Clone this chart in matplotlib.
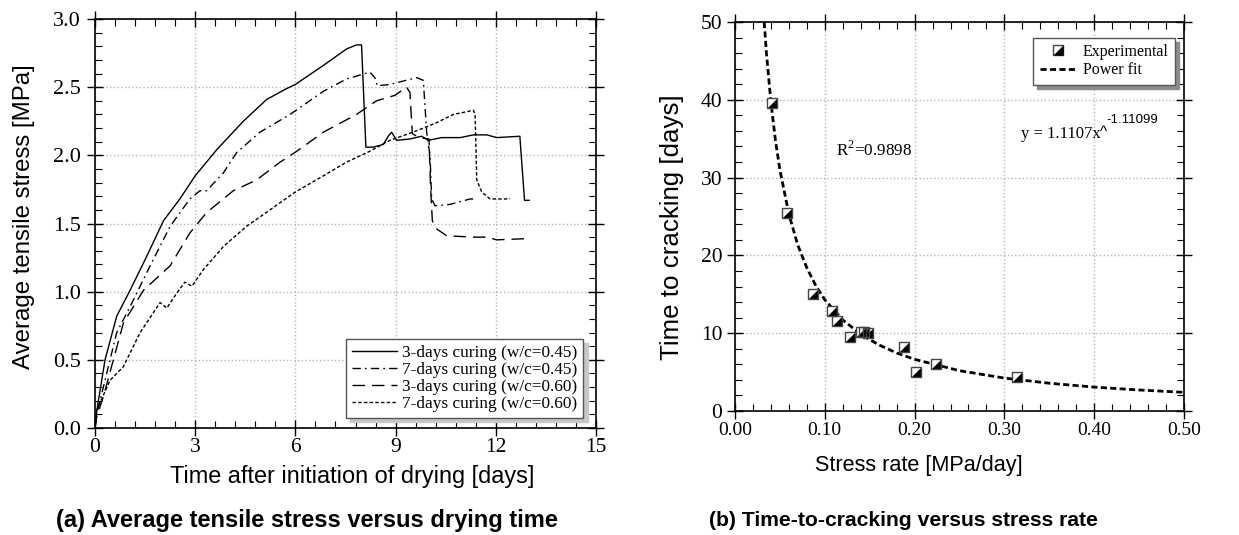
import matplotlib
matplotlib.use('Agg')
import matplotlib.pyplot as plt
from matplotlib.ticker import MultipleLocator, FormatStrFormatter
from matplotlib.legend_handler import HandlerTuple

plt.rcParams['mathtext.fontset'] = 'custom'
plt.rcParams['mathtext.rm'] = 'Liberation Serif'

SERIF = 'Liberation Serif'
SANS = 'Liberation Sans'

# ---- (a) stress vs drying time ----
t_c3_045 = [0, 0.05, 0.3, 0.65, 1.05, 1.55, 2.05, 2.54, 3.0, 3.64, 4.44, 5.14, 5.74, 6.0,
            6.84, 7.53, 7.83, 7.98, 8.11, 8.33, 8.63, 8.78, 8.88, 9.03, 9.43, 9.78, 9.98,
            10.38, 10.93, 11.33, 11.73, 12.03, 12.72, 12.86, 13.0]
s_c3_045 = [0, 0.12, 0.5, 0.82, 1.01, 1.26, 1.52, 1.68, 1.85, 2.04, 2.25, 2.41, 2.49, 2.52,
            2.66, 2.78, 2.81, 2.81, 2.06, 2.06, 2.08, 2.14, 2.17, 2.11, 2.12, 2.14, 2.11,
            2.13, 2.13, 2.15, 2.15, 2.13, 2.14, 1.67, 1.67]

t_c7_045 = [0, 0.05, 0.25, 0.65, 1.05, 1.55, 2.25, 2.84, 3.14, 3.34, 3.84, 4.24, 4.94, 5.84,
            6.84, 7.53, 8.23, 8.38, 8.45, 8.83, 9.63, 9.83, 9.93, 10.03, 10.08, 10.18, 10.63,
            11.23, 11.33]
s_c7_045 = [0, 0.1, 0.30, 0.70, 0.89, 1.14, 1.48, 1.68, 1.74, 1.74, 1.87, 2.02, 2.17, 2.30,
            2.47, 2.56, 2.61, 2.57, 2.51, 2.52, 2.57, 2.55, 2.17, 2.0, 1.68, 1.63, 1.64,
            1.68, 1.68]

t_c3_060 = [0, 0.05, 0.25, 0.85, 1.45, 2.25, 2.84, 3.34, 4.14, 4.84, 5.54, 6.04, 6.84, 7.83,
            8.43, 8.98, 9.33, 9.43, 9.5, 9.7, 10.0, 10.05, 10.1, 10.23, 10.53, 11.33, 11.73,
            12.03, 13.02]
s_c3_060 = [0, 0.08, 0.23, 0.77, 1.01, 1.19, 1.43, 1.58, 1.74, 1.82, 1.95, 2.03, 2.17, 2.30,
            2.40, 2.44, 2.50, 2.46, 2.16, 2.13, 2.12, 1.75, 1.52, 1.46, 1.41, 1.40, 1.40,
            1.38, 1.39]

t_c7_060 = [0, 0.05, 0.45, 0.85, 1.35, 1.95, 2.15, 2.45, 2.69, 2.90, 3.24, 3.84, 4.54, 5.24,
            5.99, 6.84, 7.53, 8.23, 8.83, 9.63, 10.23, 10.73, 11.33, 11.38, 11.43, 11.58,
            11.83, 12.43]
s_c7_060 = [0, 0.13, 0.35, 0.45, 0.70, 0.92, 0.88, 0.99, 1.07, 1.04, 1.16, 1.33, 1.48, 1.60,
            1.73, 1.85, 1.95, 2.03, 2.11, 2.18, 2.24, 2.30, 2.33, 2.30, 1.82, 1.73,
            1.68, 1.68]

labels_a = ['3-days curing (w/c=0.45)', '7-days curing (w/c=0.45)',
            '3-days curing (w/c=0.60)', '7-days curing (w/c=0.60)']

# ---- (b) time to cracking vs stress rate ----
rate = [0.0407, 0.0581, 0.087, 0.108, 0.114, 0.1285, 0.1407, 0.1437, 0.148, 0.188,
        0.202, 0.224, 0.314]
t_crack = [39.6, 25.5, 15.0, 12.9, 11.6, 9.55, 10.2, 10.2, 10.0, 8.27, 5.05, 6.04, 4.33]

fit_x = [0.0325, 0.035, 0.04, 0.045, 0.05, 0.06, 0.07, 0.08, 0.09, 0.10, 0.12, 0.14,
         0.16, 0.18, 0.20, 0.25, 0.30, 0.35, 0.40, 0.45, 0.50]
fit_y = [50.0, 46.0, 39.7, 34.8, 31.0, 25.3, 21.3, 18.4, 16.1, 14.3, 11.7, 9.87,
         8.51, 7.46, 6.64, 5.18, 4.23, 3.57, 3.07, 2.70, 2.40]

W, H = 1239, 535
fig = plt.figure(figsize=(W / 100, H / 100), dpi=100)


def px_axes(l, t, r, b):
    return fig.add_axes([l / W, 1 - b / H, (r - l) / W, (b - t) / H])


def style_axes(ax):
    for s in ax.spines.values():
        s.set_linewidth(1.2)
    ax.tick_params(which='both', top=True, right=True, labelfontfamily=SERIF)
    ax.tick_params(which='major', direction='inout', length=12, width=1.0)
    ax.tick_params(which='minor', direction='in', length=5, width=0.8)
    ax.grid(True, which='major', color='#b5b5b5', linestyle=':', linewidth=1.0)
    ax.set_axisbelow(True)


TRI = [(1, -1), (1, 1), (-1, -1)]   # lower-right half of the square marker

# ----- panel (a) -----
ax1 = px_axes(95, 19, 596, 428)
ax1.plot(t_c3_045, s_c3_045, color='k', lw=1.0, ls='-', label=labels_a[0])
ax1.plot(t_c7_045, s_c7_045, color='k', lw=1.0, ls=(0, (6, 3, 1.2, 3)), label=labels_a[1])
ax1.plot(t_c3_060, s_c3_060, color='k', lw=1.0, ls=(0, (9, 5)), label=labels_a[2])
ax1.plot(t_c7_060, s_c7_060, color='k', lw=1.0, ls=(0, (2.5, 1.6)), label=labels_a[3])
ax1.set_xlim(0, 15)
ax1.set_ylim(0, 3.0)
ax1.xaxis.set_major_locator(MultipleLocator(3))
ax1.xaxis.set_minor_locator(MultipleLocator(0.6))
ax1.yaxis.set_major_locator(MultipleLocator(0.5))
ax1.yaxis.set_minor_locator(MultipleLocator(0.1))
ax1.yaxis.set_major_formatter(FormatStrFormatter('%.1f'))
style_axes(ax1)
ax1.tick_params(axis='x', pad=1, labelsize=15.5)
ax1.tick_params(axis='y', pad=4, labelsize=16)
leg1 = ax1.legend(loc='lower right', bbox_to_anchor=(0.975, 0.025), borderaxespad=0,
                  prop={'family': SERIF, 'size': 12.4}, handlelength=2.6,
                  labelspacing=0.05, handletextpad=0.3, borderpad=0.35, fancybox=False,
                  edgecolor='#555555', framealpha=1,
                  shadow={'color': '#c8c8c8', 'alpha': 1, 'ox': 3, 'oy': -3})
leg1.get_frame().set_linewidth(1.0)

# ----- panel (b) -----
ax2 = px_axes(735, 22, 1184, 411)
ax2.plot(fit_x, fit_y, color='k', lw=2.0, ls=(0, (2.2, 1.2)), zorder=3)
ax2.plot(rate, t_crack, ls='none', marker='s', ms=7.5, mfc='white', mec='none', zorder=4)
ax2.plot(rate, t_crack, ls='none', marker=TRI, ms=7.5, mfc='black', mec='none', zorder=5)
ax2.plot(rate, t_crack, ls='none', marker='s', ms=7.5, mfc='none', mec='#444444',
         mew=1.0, zorder=6)
ax2.set_xlim(0, 0.5)
ax2.set_ylim(0, 50)
ax2.xaxis.set_major_locator(MultipleLocator(0.1))
ax2.xaxis.set_minor_locator(MultipleLocator(0.02))
ax2.yaxis.set_major_locator(MultipleLocator(10))
ax2.yaxis.set_minor_locator(MultipleLocator(2))
ax2.xaxis.set_major_formatter(FormatStrFormatter('%.2f'))
style_axes(ax2)
ax2.tick_params(axis='x', pad=2, labelsize=14)
ax2.tick_params(axis='y', pad=3, labelsize=15.5)

h_sq = plt.Line2D([], [], ls='none', marker='s', ms=7.5, mfc='white', mec='#444444', mew=1.0)
h_tri = plt.Line2D([], [], ls='none', marker=TRI, ms=7.5, mfc='black', mec='none')
h_fit = plt.Line2D([], [], color='k', lw=2.0, ls=(0, (2.2, 1.2)))
leg2 = ax2.legend([(h_sq, h_tri), h_fit], ['Experimental', 'Power fit'],
                  handler_map={tuple: HandlerTuple(ndivide=1, pad=0)}, numpoints=1,
                  loc='upper right', bbox_to_anchor=(0.98, 0.96), borderaxespad=0,
                  prop={'family': SERIF, 'size': 11.5}, handlelength=2.3,
                  labelspacing=0.15, handletextpad=0.4, fancybox=False,
                  edgecolor='#555555', framealpha=1,
                  shadow={'color': '#8c8c8c', 'alpha': 1, 'ox': 3, 'oy': -3})
leg2.get_frame().set_linewidth(1.0)

ax2.text(0.113, 32.8, r'R$^{\mathrm{2}}$=0.9898', family=SERIF, fontsize=12.3,
         va='baseline', ha='left')
ax2.text(0.319, 35.1, 'y = 1.1107x', family=SERIF, fontsize=12, va='baseline', ha='left')
ax2.text(0.406, 35.4, '^', family=SANS, fontsize=11, va='baseline', ha='left')
ax2.text(0.414, 37.0, '-1.11099', family=SANS, fontsize=9.5, va='baseline', ha='left')

# ----- axis labels and captions -----
fig.text(352 / W, 1 - 477 / H, 'Time after initiation of drying [days]', family=SANS,
         fontsize=16.9, ha='center', va='center')
fig.text(24 / W, 1 - 217 / H, 'Average tensile stress [MPa]', family=SANS,
         fontsize=17.3, ha='center', va='center', rotation=90)
fig.text(919 / W, 1 - 465 / H, 'Stress rate [MPa/day]', family=SANS,
         fontsize=15.6, ha='center', va='center')
fig.text(672 / W, 1 - 227 / H, 'Time to cracking [days]', family=SANS,
         fontsize=18.6, ha='center', va='center', rotation=90)
fig.text(307 / W, 1 - 521 / H, '(a) Average tensile stress versus drying time',
         family=SANS, fontsize=17, fontweight='bold', ha='center', va='center')
fig.text(903 / W, 1 - 520 / H, '(b) Time-to-cracking versus stress rate',
         family=SANS, fontsize=15.2, fontweight='bold', ha='center', va='center')

fig.savefig('out.png', dpi=100, facecolor='white')
